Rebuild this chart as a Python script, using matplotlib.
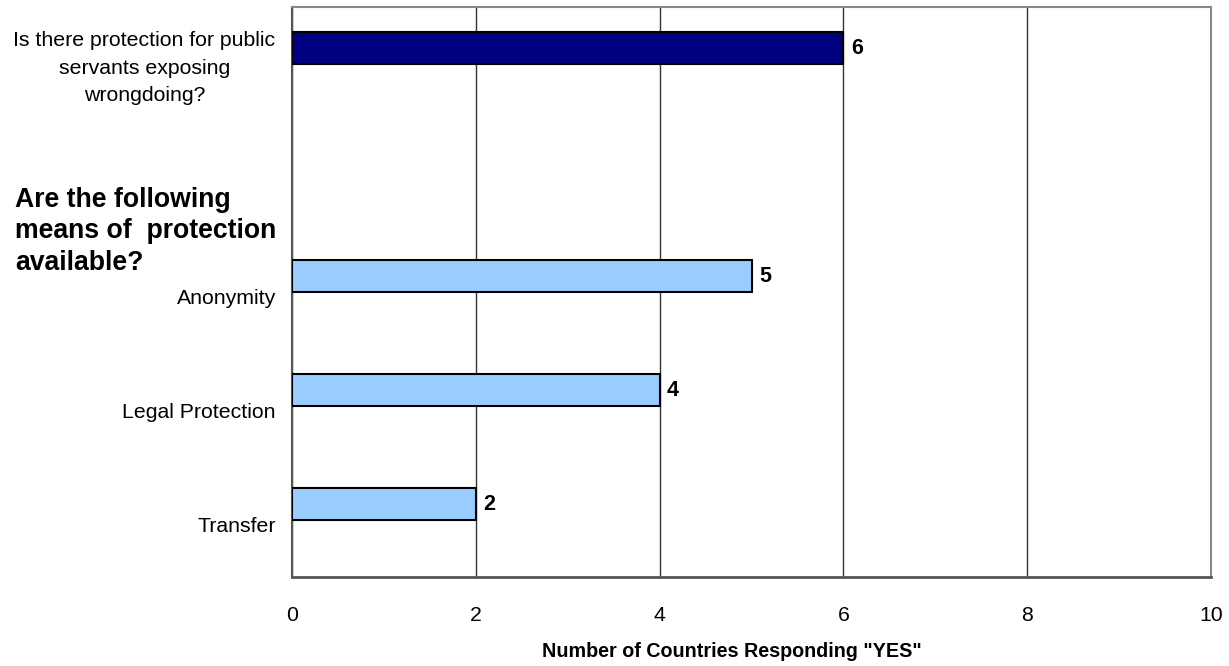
import numpy as np
import matplotlib.pyplot as plt
from matplotlib import transforms

###############################################################################
#Data
###############################################################################
categories = ["Is there protection for public\nservants exposing\nwrongdoing?", "",
              "Anonymity", "Legal Protection", "Transfer"]
values = [6, np.nan, 5, 4, 2]
colours = ["#000080", "none", "#99CCFF", "#99CCFF", "#99CCFF"]
heading = "Are the following\nmeans of  protection\navailable?"
xticks = [0, 2, 4, 6, 8, 10]

###############################################################################
#Plot
###############################################################################
plt.rcParams['font.family'] = ["Liberation Sans", "DejaVu Sans"]

fig = plt.figure(figsize=(12.29, 6.66), dpi=100)
ax = fig.add_axes([292/1229, 1 - 577/666, (1211-292)/1229, (577-7)/666])

ypos = np.arange(len(categories))
for y, v, c in zip(ypos, values, colours):
    if np.isnan(v):
        continue
    ax.barh(y - 0.14, v, height=0.28, color=c, edgecolor="black", linewidth=1.5, zorder=3)
    ax.text(v + 0.08, y - 0.14, str(v), va="center", ha="left",
            fontsize=15.5, fontweight="bold", zorder=4)

ax.set_xlim(0, 10)
ax.set_ylim(len(categories) - 0.5, -0.5)
ax.set_xticks(xticks)
ax.set_xticklabels([str(t) for t in xticks], fontsize=15.3)
ax.set_yticks(ypos)
ax.set_yticklabels(["" if "\n" in c else c for c in categories], fontsize=15.3)
ax.tick_params(axis="both", length=0)
ax.tick_params(axis="x", pad=21)

#single-line y labels right aligned, nudged down a little
for lab in ax.get_yticklabels():
    lab.set_transform(ax.get_yaxis_transform() +
                      transforms.ScaledTranslation(-0.16, -0.05, fig.dpi_scale_trans))

#multi-line label centred in its own column
for y, cat in zip(ypos, categories):
    if "\n" in cat:
        ax.text(0, y, cat, fontsize=15.3, ha="center", va="center",
                multialignment="center", linespacing=1.55,
                transform=ax.get_yaxis_transform() +
                transforms.ScaledTranslation(-1.475, -0.04, fig.dpi_scale_trans))

ax.xaxis.grid(True, color="#333333", linewidth=1.0, zorder=0)
ax.set_axisbelow(True)

for s in ["top", "right"]:
    ax.spines[s].set_color("#888888")
    ax.spines[s].set_linewidth(1.5)
ax.spines["left"].set_color("#555555")
ax.spines["left"].set_linewidth(1.5)
ax.spines["bottom"].set_color("#555555")
ax.spines["bottom"].set_linewidth(2)

ax.set_xlabel('Number of Countries Responding "YES"', fontsize=14.2, fontweight="bold", labelpad=12)
ax.xaxis.label.set_x(0.479)

fig.text(15/1229, 1 - 187/666, heading, fontsize=19.2, fontweight="bold",
         ha="left", va="top", linespacing=1.27)

fig.savefig("out.png", dpi=100)
